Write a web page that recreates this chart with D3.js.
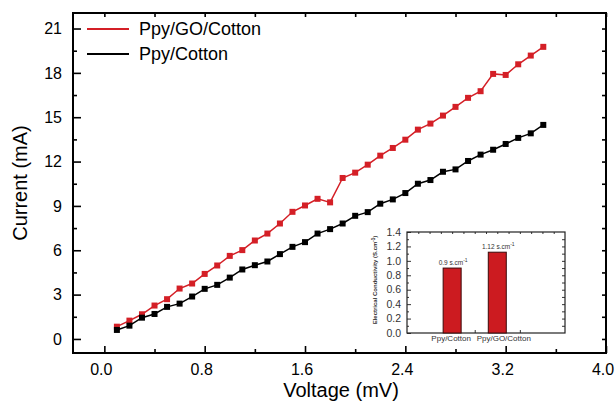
<!DOCTYPE html>
<html>
<head>
<meta charset="utf-8">
<script src="https://cdn.jsdelivr.net/npm/d3@7"></script>
<style>
  body { margin: 0; background: #fff; }
  text { font-family: "Liberation Sans", Arial, sans-serif; fill: #000; }
</style>
</head>
<body>
<script>
var width = 615,
    height = 407;

// I-V data
var voltage = [0.1, 0.2, 0.3, 0.4, 0.5, 0.6, 0.7, 0.8, 0.9, 1.0, 1.1, 1.2, 1.3, 1.4, 1.5, 1.6, 1.7, 1.8,
               1.9, 2.0, 2.1, 2.2, 2.3, 2.4, 2.5, 2.6, 2.7, 2.8, 2.9, 3.0, 3.1, 3.2, 3.3, 3.4, 3.5];
var currentGO = [0.83, 1.24, 1.67, 2.26, 2.69, 3.41, 3.75, 4.40, 4.97, 5.62, 6.01, 6.66, 7.13, 7.81, 8.60, 9.03, 9.48, 9.24,
                 10.89, 11.25, 11.79, 12.40, 12.92, 13.48, 14.16, 14.57, 15.11, 15.70, 16.31, 16.76, 17.93, 17.86, 18.58, 19.17, 19.76];
var currentPpy = [0.61, 0.90, 1.44, 1.69, 2.17, 2.39, 2.87, 3.39, 3.66, 4.15, 4.70, 4.99, 5.24, 5.74, 6.23, 6.55, 7.13, 7.43,
                  7.81, 8.33, 8.58, 9.15, 9.44, 9.87, 10.50, 10.75, 11.31, 11.47, 12.04, 12.47, 12.80, 13.19, 13.60, 13.91, 14.48];

var seriesNames = ["Ppy/GO/Cotton", "Ppy/Cotton"];
var seriesColors = ["#d41f26", "#000000"];

var xTicks = [0.0, 0.8, 1.6, 2.4, 3.2, 4.0];
var yTicks = [0, 3, 6, 9, 12, 15, 18, 21];

// inset bar data
var barCats = ["Ppy/Cotton", "Ppy/GO/Cotton"];
var barVals = [0.9, 1.12];
var barLabels = ["0.9 s.cm", "1.12 s.cm"];
var insetTicks = [0.0, 0.2, 0.4, 0.6, 0.8, 1.0, 1.2, 1.4];

var svg = d3.select("body").append("svg")
    .attr("width", width)
    .attr("height", height);

// plot frame edges (note: "top" is a reserved window global)
var pL = 73, pR = 606, pT = 13, pB = 353;

var x = d3.scaleLinear().domain([-0.25, 4.0]).range([pL, pR]);
var y = d3.scaleLinear().domain([-0.95, 22.05]).range([pB, pT]);

// ticks (all inward)
var axes = svg.append("g").attr("class", "axes");

function tickAxis(axis, scale, vals, size) {
  return axis(scale).tickValues(vals).tickSize(size).tickFormat("");
}

// bottom major + minor
axes.append("g").attr("transform", "translate(0," + pB + ")")
  .call(tickAxis(d3.axisTop, x, xTicks, 7));
axes.append("g").attr("transform", "translate(0," + pB + ")")
  .call(tickAxis(d3.axisTop, x, d3.range(0.4, 4.0, 0.8), 4));
// top
axes.append("g").attr("transform", "translate(0," + pT + ")")
  .call(tickAxis(d3.axisBottom, x, d3.range(0, 4.01, 0.4), 4));
// left major + minor
axes.append("g").attr("transform", "translate(" + pL + ",0)")
  .call(tickAxis(d3.axisRight, y, yTicks, 8));
axes.append("g").attr("transform", "translate(" + pL + ",0)")
  .call(tickAxis(d3.axisRight, y, d3.range(1.5, 21, 3), 4));
// right
axes.append("g").attr("transform", "translate(" + pR + ",0)")
  .call(tickAxis(d3.axisLeft, y, d3.range(0, 22, 1.5), 4));

axes.selectAll(".domain").remove();
axes.selectAll(".tick line").attr("stroke", "#000").attr("stroke-width", 1.6);

// frame
svg.append("rect")
  .attr("x", pL).attr("y", pT)
  .attr("width", pR - pL).attr("height", pB - pT)
  .attr("fill", "none").attr("stroke", "#000").attr("stroke-width", 2);

// tick labels
svg.append("g").selectAll("text")
  .data(xTicks).enter().append("text")
  .attr("x", d => x(d) - 3)
  .attr("y", 375)
  .attr("text-anchor", "middle")
  .style("font-size", "16px")
  .text(d => d.toFixed(1));

svg.append("g").selectAll("text")
  .data(yTicks).enter().append("text")
  .attr("x", 62)
  .attr("y", d => y(d))
  .attr("dy", "0.36em")
  .attr("text-anchor", "end")
  .style("font-size", "16px")
  .text(d => d);

// axis titles
svg.append("text")
  .attr("x", 341).attr("y", 397)
  .attr("text-anchor", "middle")
  .style("font-size", "20px")
  .text("Voltage (mV)");

svg.append("text")
  .attr("transform", "translate(27,183) rotate(-90)")
  .attr("text-anchor", "middle")
  .style("font-size", "20px")
  .text("Current (mA)");

// series
var series = [currentGO, currentPpy];
var line = d3.line()
  .x(function(d, i) { return x(voltage[i]); })
  .y(function(d) { return y(d); });

series.forEach(function(vals, k) {
  var g = svg.append("g").attr("class", "series");
  g.append("path")
    .attr("d", line(vals))
    .attr("fill", "none")
    .attr("stroke", seriesColors[k])
    .attr("stroke-width", 1.5);
  g.selectAll("rect")
    .data(vals).enter().append("rect")
    .attr("x", (d, i) => x(voltage[i]) - 3)
    .attr("y", d => y(d) - 3)
    .attr("width", 6).attr("height", 6)
    .attr("fill", seriesColors[k]);
});

// legend
var legend = svg.append("g").attr("class", "legend");
seriesNames.forEach(function(name, k) {
  var ly = 29 + k * 25;
  legend.append("line")
    .attr("x1", 87).attr("x2", 129)
    .attr("y1", ly).attr("y2", ly)
    .attr("stroke", seriesColors[k]).attr("stroke-width", 2);
  legend.append("text")
    .attr("x", 139).attr("y", ly)
    .attr("dy", "0.36em")
    .style("font-size", "18px")
    .text(name);
});

// ---- inset bar chart ----
var iL = 407, iR = 565, iT = 232, iB = 333;
var ix = d3.scaleLinear().domain([0, 3.5]).range([iL, iR]);
var iy = d3.scaleLinear().domain([0, 1.4]).range([iB, iT]);
var inset = svg.append("g").attr("class", "inset");

var iaxes = inset.append("g");
iaxes.append("g").attr("transform", "translate(" + iL + ",0)")
  .call(tickAxis(d3.axisRight, iy, insetTicks, 4));
iaxes.append("g").attr("transform", "translate(" + iL + ",0)")
  .call(tickAxis(d3.axisRight, iy, d3.range(0.1, 1.4, 0.2), 2));
iaxes.append("g").attr("transform", "translate(" + iR + ",0)")
  .call(tickAxis(d3.axisLeft, iy, d3.range(0.1, 1.4, 0.1), 3));
iaxes.append("g").attr("transform", "translate(0," + iT + ")")
  .call(tickAxis(d3.axisBottom, ix, d3.range(0.25, 3.5, 0.25), 2));
iaxes.append("g").attr("transform", "translate(0," + iB + ")")
  .call(tickAxis(d3.axisTop, ix, [1.5, 2.5], 3));
iaxes.selectAll(".domain").remove();
iaxes.selectAll(".tick line").attr("stroke", "#333").attr("stroke-width", 1);

inset.append("rect")
  .attr("x", iL).attr("y", iT)
  .attr("width", iR - iL).attr("height", iB - iT)
  .attr("fill", "none").attr("stroke", "#222").attr("stroke-width", 1.2);

inset.selectAll("rect.bar")
  .data(barVals).enter().append("rect")
  .attr("class", "bar")
  .attr("x", (d, i) => ix(i + 1) - 9)
  .attr("y", d => iy(d))
  .attr("width", 18)
  .attr("height", d => iB - iy(d))
  .attr("fill", "#cc1b20")
  .attr("stroke", "#3a0a0a").attr("stroke-width", 1);

// bar value labels with superscript -1
var vl = inset.selectAll("text.vlabel")
  .data(barVals).enter().append("text")
  .attr("class", "vlabel")
  .attr("x", (d, i) => ix(i + 1) + 1)
  .attr("y", d => iy(d) - 3)
  .attr("text-anchor", "middle")
  .style("font-size", "6.5px")
  .style("fill", "#333");
vl.append("tspan").text((d, i) => barLabels[i]);
vl.append("tspan").attr("dy", "-3").style("font-size", "5px").text("-1");

inset.selectAll("text.cat")
  .data(barCats).enter().append("text")
  .attr("class", "cat")
  .attr("x", (d, i) => ix(i + 1) + (i ? 6.5 : -1))
  .attr("y", 341)
  .attr("text-anchor", "middle")
  .style("font-size", "8px")
  .style("fill", "#333")
  .text(d => d);

inset.selectAll("text.ytick")
  .data(insetTicks).enter().append("text")
  .attr("class", "ytick")
  .attr("x", 401)
  .attr("y", d => iy(d))
  .attr("dy", "0.36em")
  .attr("text-anchor", "end")
  .style("font-size", "10.5px")
  .style("fill", "#333")
  .text(d => d.toFixed(1));

var ylab = inset.append("text")
  .attr("transform", "translate(377,280) rotate(-90)")
  .attr("text-anchor", "middle")
  .style("font-size", "6px")
  .style("font-weight", "bold")
  .style("fill", "#333");
ylab.append("tspan").text("Electrical Conductivity (S.cm");
ylab.append("tspan").attr("dy", "-2.5").style("font-size", "4.5px").text("-1");
ylab.append("tspan").attr("dy", "2.5").text(")");
</script>
</body>
</html>
